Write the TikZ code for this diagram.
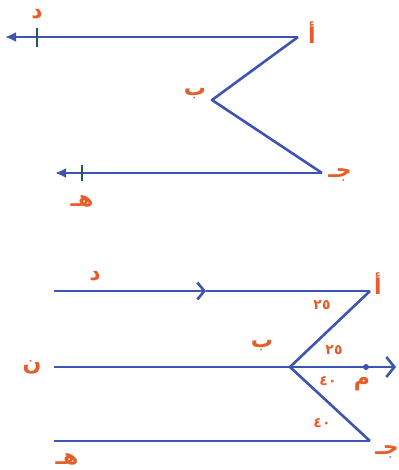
\documentclass[tikz,border=0pt]{standalone}
\usepackage{fontspec}
\newfontfamily\arabicfont[Script=Arabic]{DejaVu Sans}
\TeXXeTstate=1
\usetikzlibrary{arrows.meta}
\definecolor{lineblue}{RGB}{62,84,178}
\definecolor{labelred}{RGB}{232,92,42}
\definecolor{tickgreen}{RGB}{40,90,70}
\tikzset{
  seg/.style={lineblue, line width=2.6pt},
  lbl/.style={text=labelred, font=\arabicfont\bfseries\fontsize{22}{24}\selectfont, inner sep=0pt},
  num/.style={text=labelred, font=\arabicfont\bfseries\fontsize{14}{16}\selectfont, inner sep=0pt},
  tickmark/.style={tickgreen, line width=1.8pt}
}
\begin{document}
\begin{tikzpicture}[x=1pt,y=-1pt]
\useasboundingbox (0,0) rectangle (398,470);
% first figure
\coordinate (a1) at (298,37);
\coordinate (b1) at (212,100);
\coordinate (c1) at (322,173);
\coordinate (d1) at (5,37);
\coordinate (e1) at (55,173);
\draw[seg, -{Latex[length=11pt,width=10pt]}] (a1) -- (d1);
\draw[seg, -{Latex[length=11pt,width=10pt]}] (c1) -- (e1);
\draw[seg, line join=round] (a1) -- (b1) -- (c1);
\draw[tickmark] (37,28) -- (37,47);
\draw[tickmark] (82,165) -- (82,181);
\node[lbl] (la1) at (312,33) {\beginR أ\endR};
\node[lbl] (lb1) at (195,94) {\beginR ب\endR};
\node[lbl] (lc1) at (340,175) {\beginR جـ\endR};
\node[lbl] (ld1) at (37,14) {\beginR د\endR};
\node[lbl] (le1) at (82,201) {\beginR هـ\endR};
% second figure
\coordinate (a2) at (370,291);
\coordinate (b2) at (290,367);
\coordinate (c2) at (370,441);
\coordinate (d2) at (54,291);
\coordinate (e2) at (54,441);
\coordinate (n2) at (54,367);
\coordinate (m2) at (366,367);
\coordinate (p2) at (396,367);
\coordinate (mid2) at (206,291);
\draw[seg, -{Straight Barb[length=7pt,width=17pt]}] (d2) -- (mid2);
\draw[seg] (mid2) -- (a2);
\draw[seg] (e2) -- (c2);
\draw[seg, line join=round] (a2) -- (b2) -- (c2);
\draw[seg, -{Straight Barb[length=8pt,width=20pt]}] (n2) -- (p2);
\fill[lineblue] (m2) circle (3pt);
\node[lbl] (la2) at (378,284) {\beginR أ\endR};
\node[lbl] (lb2) at (262,346) {\beginR ب\endR};
\node[lbl] (lc2) at (387,452) {\beginR جـ\endR};
\node[lbl] (ld2) at (95,276) {\beginR د\endR};
\node[lbl] (le2) at (67,459) {\beginR هـ\endR};
\node[lbl] (ln2) at (32,367) {\beginR ن\endR};
\node[lbl] (lm2) at (362,384) {\beginR م\endR};
\node[num] (g1) at (322,305) {٢٥};
\node[num] (g2) at (334,350) {٢٥};
\node[num] (g3) at (328,381) {٤٠};
\node[num] (g4) at (322,423) {٤٠};
\end{tikzpicture}
\end{document}
